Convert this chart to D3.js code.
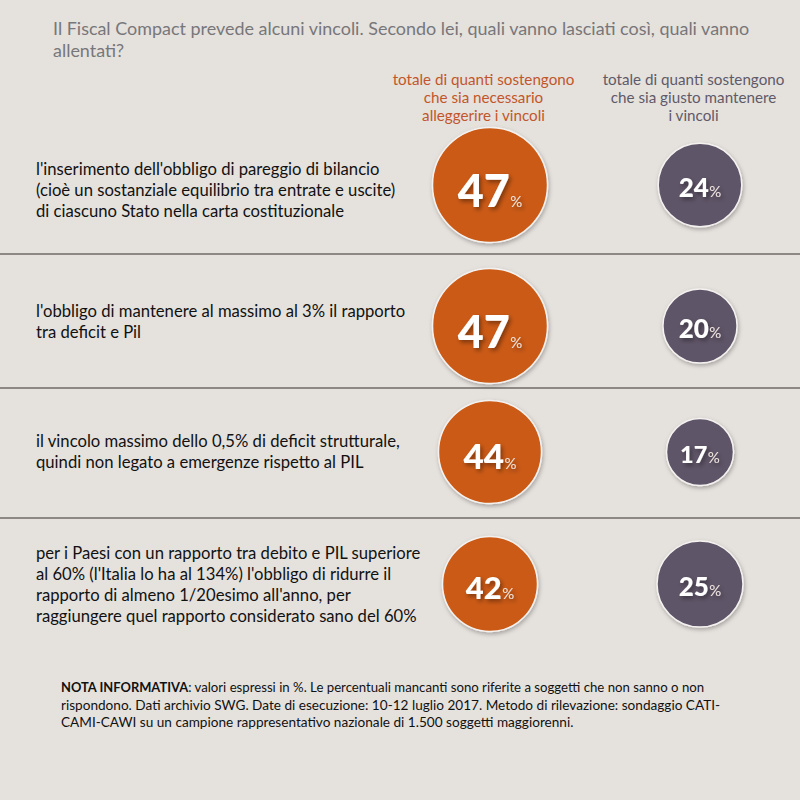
<!DOCTYPE html>
<html>
<head>
<meta charset="utf-8">
<script src="https://cdn.jsdelivr.net/npm/d3@7"></script>
<style>
  html, body { margin: 0; padding: 0; background: #e5e1dd; }
  text { font-family: Lato, "Open Sans", sans-serif; }
</style>
</head>
<body>
<div id="chart"></div>
<script>
const titleLines = [
  "Il Fiscal Compact prevede alcuni vincoli. Secondo lei, quali vanno lasciati così, quali vanno",
  "allentati?"
]
const alleggerireHead = ["totale di quanti sostengono", "che sia necessario", "alleggerire i vincoli"]
const mantenereHead = ["totale di quanti sostengono", "che sia giusto mantenere", "i vincoli"]

const rowLabels = [
  ["l'inserimento dell'obbligo di pareggio di bilancio",
   "(cioè un sostanziale equilibrio tra entrate e uscite)",
   "di ciascuno Stato nella carta costituzionale"],
  ["l'obbligo di mantenere al massimo al 3% il rapporto",
   "tra deficit e Pil"],
  ["il vincolo massimo dello 0,5% di deficit strutturale,",
   "quindi non legato a emergenze rispetto al PIL"],
  ["per i Paesi con un rapporto tra debito e PIL superiore",
   "al 60% (l'Italia lo ha al 134%) l'obbligo di ridurre il",
   "rapporto di almeno 1/20esimo all'anno, per",
   "raggiungere quel rapporto considerato sano del 60%"]
]
const alleggerire = [47, 47, 44, 42]
const mantenere = [24, 20, 17, 25]

const notaBold = "NOTA INFORMATIVA"
const notaLines = [
  ": valori espressi in %. Le percentuali mancanti sono riferite a soggetti che non sanno o non",
  "rispondono. Dati archivio SWG. Date di esecuzione: 10-12 luglio 2017. Metodo di rilevazione: sondaggio CATI-",
  "CAMI-CAWI su un campione rappresentativo nazionale di 1.500 soggetti maggiorenni."
]

const width = 800, height = 800
const ORANGE = "#cb5a14", PURPLE = "#5f5468"

const svg = d3.select("#chart").append("svg")
  .attr("width", width).attr("height", height)
  .style("display", "block")

svg.append("rect").attr("width", width).attr("height", height).attr("fill", "#e5e1dd")

const defs = svg.append("defs")
const circleShadow = defs.append("filter").attr("id", "circleShadow")
  .attr("x", "-20%").attr("y", "-20%").attr("width", "140%").attr("height", "140%")
circleShadow.append("feDropShadow").attr("dx", 1).attr("dy", 2).attr("stdDeviation", 2)
  .attr("flood-color", "#000").attr("flood-opacity", 0.28)
const textShadow = defs.append("filter").attr("id", "textShadow")
  .attr("x", "-20%").attr("y", "-20%").attr("width", "150%").attr("height", "150%")
textShadow.append("feDropShadow").attr("dx", 2).attr("dy", 2.5).attr("stdDeviation", 2)
  .attr("flood-color", "#000").attr("flood-opacity", 0.4)

// rows are not evenly spaced in the original, so ordinal rather than band
const rowY = d3.scaleOrdinal().domain(d3.range(rowLabels.length)).range([185, 326, 452, 584])
const labelY = d3.scaleOrdinal().domain(d3.range(rowLabels.length)).range([190.5, 322.5, 452, 585.5])
const columnX = d3.scaleOrdinal().domain(["alleggerire", "mantenere"]).range([490, 700])
// the bubbles are hand sized in the source, a plain sqrt does not fit them
const radius = d3.scaleLinear().domain([17, 25, 42, 47]).range([33.5, 43, 47.5, 57.5])
const numberSize = d3.scaleLinear().domain([17, 20, 25, 42, 44, 47]).range([23.5, 26, 26, 31, 35, 45])

const addLines = (g, lines, x, y, lineHeight, size, fill, anchor) => {
  g.selectAll(null).data(lines).join("text")
    .attr("x", x)
    .attr("y", (d, i) => y + i * lineHeight)
    .attr("text-anchor", anchor)
    .attr("font-size", size)
    .attr("fill", fill)
    .text(d => d)
}

addLines(svg.append("g"), titleLines, 53, 35, 22, 17.95, "#77777a", "start")
addLines(svg.append("g"), alleggerireHead, 483.5, 84.5, 18, 15.2, "#c2562a", "middle")
addLines(svg.append("g"), mantenereHead, 693.5, 84.5, 18, 15.2, "#5f5a68", "middle")

svg.append("g").selectAll("line").data([254, 388, 518]).join("line")
  .attr("x1", 0).attr("x2", width)
  .attr("y1", d => d).attr("y2", d => d)
  .attr("stroke", "#6f6a66").attr("stroke-width", 1.3)

rowLabels.forEach((lines, i) => {
  const lineHeight = 21
  const top = labelY(i) - (lines.length - 1) * lineHeight / 2 + 5
  addLines(svg.append("g"), lines, 36, top, lineHeight, 16.65, "#111", "start")
})

const drawBubbles = (values, column, fill) => {
  const g = svg.append("g").selectAll("g").data(values).join("g")
    .attr("transform", (d, i) => `translate(${columnX(column)},${rowY(i)})`)

  g.append("circle")
    .attr("r", d => radius(d))
    .attr("fill", fill)
    .attr("stroke", "#f4f2f0")
    .attr("stroke-width", 1.5)
    .attr("filter", "url(#circleShadow)")

  const label = g.append("text")
    .attr("text-anchor", "middle")
    .attr("y", d => numberSize(d) * 0.48)
    .attr("fill", "#fff")
    .attr("filter", "url(#textShadow)")
  label.append("tspan")
    .attr("font-weight", 900)
    .attr("font-size", d => numberSize(d))
    .text(d => d)
  label.append("tspan")
    .attr("dx", 0.5)
    .attr("font-size", 15)
    .attr("fill", "#f0e6e0")
    .text("%")
}

drawBubbles(alleggerire, "alleggerire", ORANGE)
drawBubbles(mantenere, "mantenere", PURPLE)

const nota = svg.append("g")
const first = nota.append("text").attr("x", 61).attr("y", 691.5).attr("fill", "#111")
first.append("tspan").attr("font-weight", 700).attr("font-size", 12.9).text(notaBold)
first.append("tspan").attr("font-size", 13.2).text(notaLines[0])
addLines(nota, notaLines.slice(1), 61, 709.5, 17.5, 13.6, "#111", "start")
</script>
</body>
</html>
